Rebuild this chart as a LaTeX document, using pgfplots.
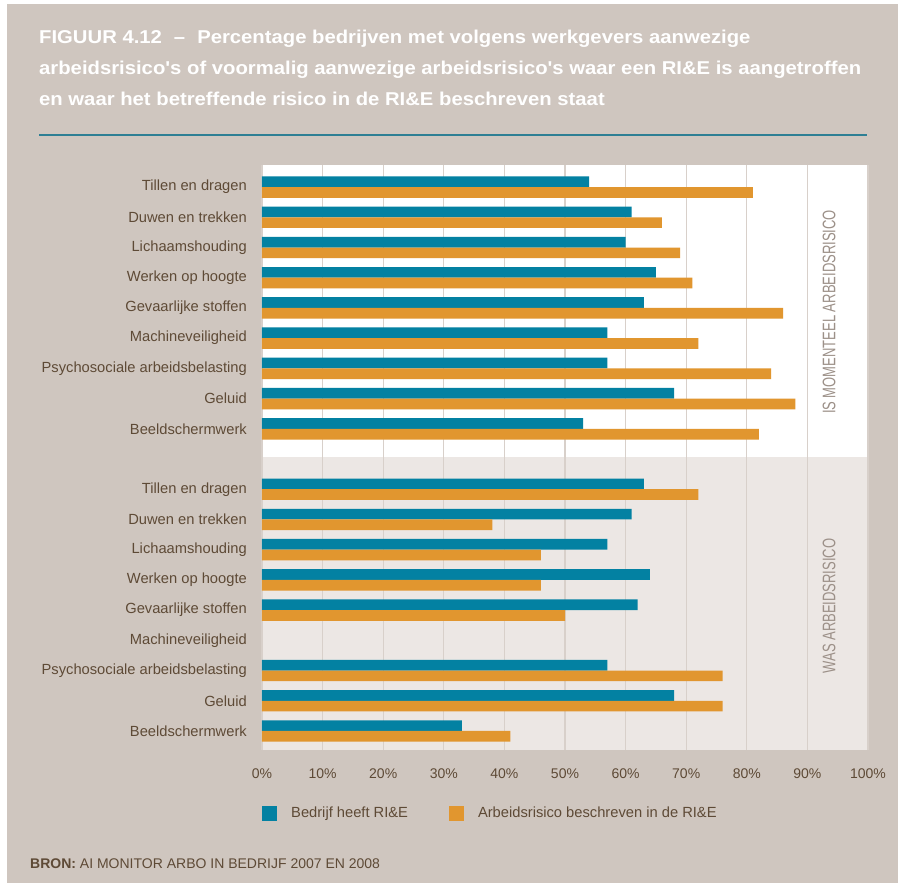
\documentclass[border=0pt]{standalone}
\usepackage{fontspec}
\usepackage{pgfplots}
\usepackage{pgfplotstable}
\pgfplotsset{compat=1.18}
\setmainfont{Liberation Sans}
\newfontfamily\titlefont{Liberation Sans}[FakeStretch=1.09]
\newfontfamily\sidefont{Liberation Sans}[FakeStretch=0.715]

\definecolor{bg}{HTML}{CFC6BF}
\definecolor{lowbg}{HTML}{ECE7E4}
\definecolor{gridc}{HTML}{D8D0CA}
\definecolor{cblue}{HTML}{0381A2}
\definecolor{corange}{HTML}{E1962F}
\definecolor{txt}{HTML}{5E4A36}
\definecolor{sidec}{HTML}{9C9088}
\definecolor{rulec}{HTML}{2E7F94}

% pos 0-8: is momenteel arbeidsrisico, 10-18: was arbeidsrisico
\pgfplotstableread{
pos bedrijf beschreven
0 54 81
1 61 66
2 60 69
3 65 71
4 63 86
5 57 72
6 57 84
7 68 88
8 53 82
10 63 72
11 61 38
12 57 46
13 64 46
14 62 50
16 57 76
17 68 76
18 33 41
}\risico

\begin{document}
\begin{tikzpicture}
\fill[white] (0,0) rectangle (898pt,-883pt);
\fill[bg] (7pt,-4pt) rectangle (898pt,-883pt);
% panel backgrounds
\fill[white] (262pt,-165pt) rectangle (868pt,-457pt);
\fill[lowbg] (262pt,-457pt) rectangle (868pt,-750pt);

\begin{scope}[font=\titlefont\bfseries\fontsize{18.6}{22}\selectfont, text=white]
\node[anchor=base west, inner sep=0pt] at (39pt,-43.5pt) {FIGUUR 4.12\hspace{12pt}–\hspace{12pt}Percentage bedrijven met volgens werkgevers aanwezige};
\node[anchor=base west, inner sep=0pt] at (39pt,-74.5pt) {arbeidsrisico's of voormalig aanwezige arbeidsrisico's waar een RI\&E is aangetroffen};
\node[anchor=base west, inner sep=0pt] at (39pt,-105.5pt) {en waar het betreffende risico in de RI\&E beschreven staat};
\end{scope}
\draw[rulec, line width=1.5pt] (39pt,-135pt) -- (867pt,-135pt);

\begin{axis}[
    at={(262pt,-750pt)}, anchor=south west,
    scale only axis,
    width=606pt, height=585pt,
    xbar,
    bar width=10.7pt,
    xmin=0, xmax=100,
    ymin=-0.73, ymax=18.63,
    y dir=reverse,
    xtick={0,10,...,100},
    xticklabel={\pgfmathprintnumber{\tick}\%},
    ytick={0,1,2,3,4,5,6,7,8,10,11,12,13,14,15,16,17,18},
    yticklabels={Tillen en dragen, Duwen en trekken, Lichaamshouding, Werken op hoogte,
        Gevaarlijke stoffen, Machineveiligheid, Psychosociale arbeidsbelasting, Geluid, Beeldschermwerk,
        Tillen en dragen, Duwen en trekken, Lichaamshouding, Werken op hoogte,
        Gevaarlijke stoffen, Machineveiligheid, Psychosociale arbeidsbelasting, Geluid, Beeldschermwerk},
    xmajorgrids,
    major grid style={draw=gridc, line width=1.2pt},
    axis line style={draw=none},
    major tick length=0pt,
    tick style={draw=none},
    yticklabel style={font=\fontsize{14.7}{17}\selectfont, text=txt, inner sep=0pt, xshift=-15pt},
    xticklabel style={font=\fontsize{14}{16}\selectfont, text=txt, inner sep=0pt, anchor=north, yshift=-19pt},
    /pgf/number format/assume math mode=true,
    legend columns=2,
    legend style={at={(0,-0.1077)}, anchor=west, draw=none, fill=none, inner sep=0pt,
        font=\fontsize{14.7}{17}\selectfont, text=txt,
        nodes={inner sep=0pt},
        /tikz/every odd column/.append style={column sep=14pt},
        /tikz/every even column/.append style={column sep=41pt}},
    legend image code/.code={\fill[#1] (0pt,-7.5pt) rectangle (15pt,7.5pt);},
]
\addplot[fill=cblue, draw=none, bar shift=5.35pt] table[x=bedrijf, y=pos] \risico;
\addplot[fill=corange, draw=none, bar shift=-5.35pt] table[x=beschreven, y=pos] \risico;
\legend{Bedrijf heeft RI\&E, Arbeidsrisico beschreven in de RI\&E}
\end{axis}

\node[rotate=90, inner sep=0pt, text=sidec, font=\sidefont\fontsize{18.2}{20}\selectfont] at (829pt,-312pt) {IS MOMENTEEL ARBEIDSRISICO};
\node[rotate=90, inner sep=0pt, text=sidec, font=\sidefont\fontsize{18.2}{20}\selectfont] at (829pt,-606pt) {WAS ARBEIDSRISICO};

\node[anchor=base west, inner sep=0pt, text=txt, font=\fontsize{14}{16}\selectfont] at (30pt,-868.3pt) {\textbf{BRON:} AI MONITOR ARBO IN BEDRIJF 2007 EN 2008};
\end{tikzpicture}
\end{document}
